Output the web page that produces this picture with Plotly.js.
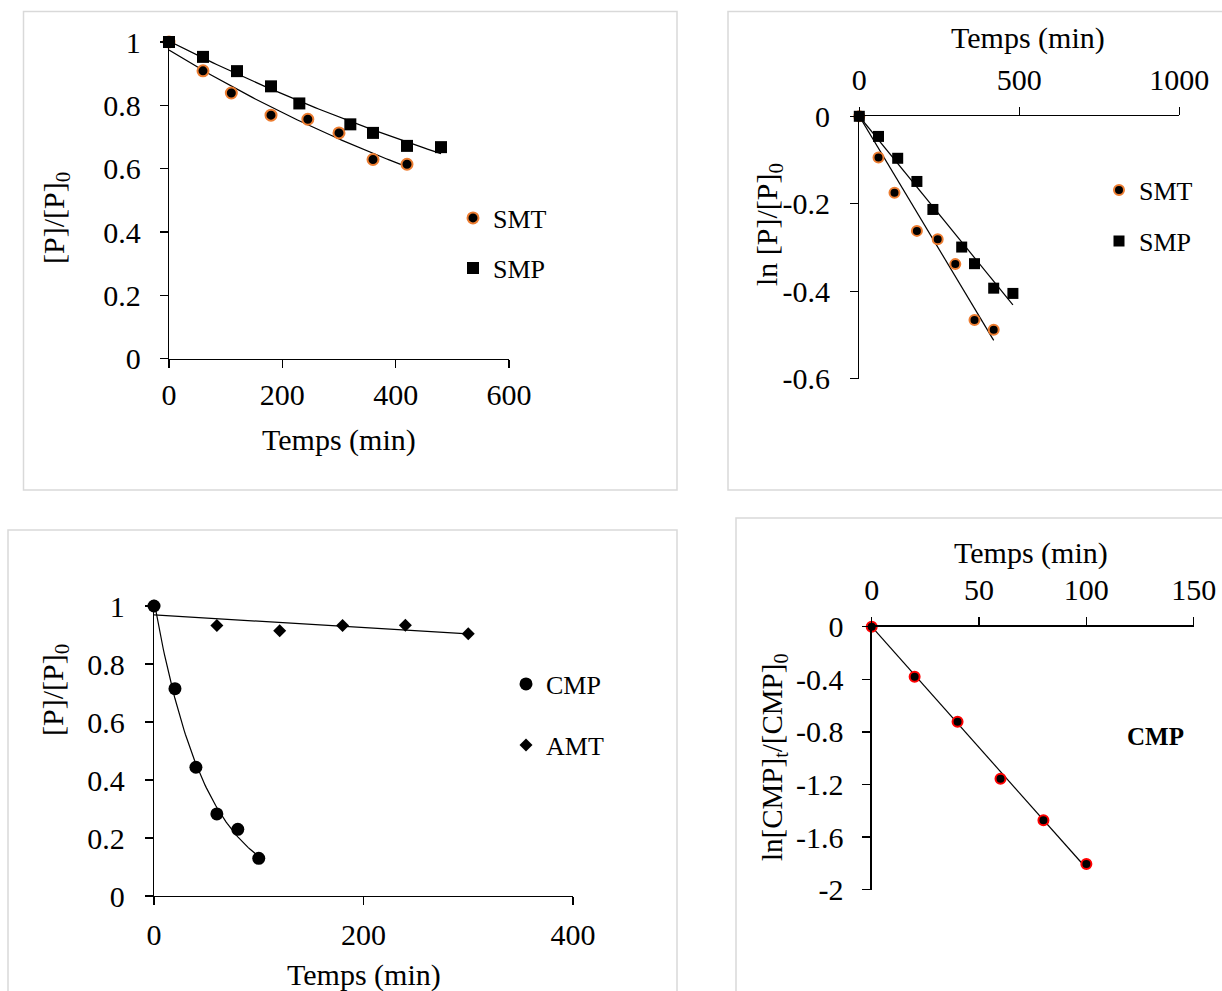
<!DOCTYPE html>
<html>
<head>
<meta charset="utf-8">
<script src="https://cdn.plot.ly/plotly-3.0.1.min.js"></script>
<style>
html,body{margin:0;padding:0;background:#fff;}
#chart{width:1222px;height:991px;}
</style>
</head>
<body>
<div id="chart"></div>
<script>
// ---------- data ----------
// Panel A: [P]/[P]0 vs time (SMT, SMP)
const smtTime  = [0, 60, 110, 180, 245, 300, 360, 420];
const smtRatio = [1.0, 0.909, 0.839, 0.769, 0.756, 0.713, 0.629, 0.614];
const smpTime  = [0, 60, 120, 180, 230, 320, 360, 420, 480];
const smpRatio = [1.0, 0.953, 0.908, 0.860, 0.806, 0.740, 0.713, 0.672, 0.668];

// Panel B: ln [P]/[P]0 vs time (SMT, SMP)
const smtLnTime = [0, 60, 110, 180, 245, 300, 360, 420];
const smtLn     = [0, -0.094, -0.175, -0.262, -0.281, -0.338, -0.466, -0.488];
const smpLnTime = [0, 60, 120, 180, 230, 320, 360, 420, 480];
const smpLn     = [0, -0.046, -0.096, -0.149, -0.213, -0.299, -0.337, -0.393, -0.405];

// Panel C: [P]/[P]0 vs time (CMP, AMT)
const cmpTime  = [0, 20, 40, 60, 80, 100];
const cmpRatio = [1.0, 0.715, 0.444, 0.283, 0.230, 0.130];
const amtTime  = [0, 60, 120, 180, 240, 300];
const amtRatio = [1.0, 0.933, 0.915, 0.933, 0.934, 0.904];

// Panel D: ln[CMP]t/[CMP]0 vs time
const cmpLnTime = [0, 20, 40, 60, 80, 100];
const cmpLn     = [0, -0.380, -0.722, -1.156, -1.472, -1.805];

// tick labels
const ticksB = [0, -0.2, -0.4, -0.6];
const ticksBText = ['0', '-0.2', '-0.4', '-0.6'];
const ticksD = [0, -0.4, -0.8, -1.2, -1.6, -2];
const ticksDText = ['0', '-0.4', '-0.8', '-1.2', '-1.6', '-2'];

// ---------- trendline fits (as the spreadsheet does) ----------
function linFit(xs, ys) {
  const n = xs.length;
  const mx = xs.reduce((a, b) => a + b, 0) / n;
  const my = ys.reduce((a, b) => a + b, 0) / n;
  let sxy = 0, sxx = 0;
  for (let i = 0; i < n; i++) { sxy += (xs[i] - mx) * (ys[i] - my); sxx += (xs[i] - mx) ** 2; }
  const m = sxy / sxx;
  return { m: m, b: my - m * mx };
}
function linFitOrigin(xs, ys) {
  let sxy = 0, sxx = 0;
  for (let i = 0; i < xs.length; i++) { sxy += xs[i] * ys[i]; sxx += xs[i] * xs[i]; }
  return sxy / sxx;
}
function expFitCurve(xs, ys) {
  const f = linFit(xs, ys.map(v => Math.log(v)));
  const a = Math.exp(f.b);
  const xmax = Math.max(...xs);
  const cx = [], cy = [];
  const n = 80;
  for (let i = 0; i <= n; i++) { const x = xmax * i / n; cx.push(x); cy.push(a * Math.exp(f.m * x)); }
  return { x: cx, y: cy };
}
function linCurve(xs, ys) {
  const f = linFit(xs, ys);
  const x0 = Math.min(...xs), x1 = Math.max(...xs);
  return { x: [x0, x1], y: [f.b + f.m * x0, f.b + f.m * x1] };
}
function originCurve(xs, ys) {
  const m = linFitOrigin(xs, ys);
  const x1 = Math.max(...xs);
  return { x: [0, x1], y: [0, m * x1] };
}

// ---------- geometry helpers ----------
const W = 1222, H = 991;
const px = v => v / W;
const py = v => 1 - v / H;

const FONT = '"Liberation Serif", "Times New Roman", serif';
const ORANGE = '#ED7D31';
const trendLine = { color: '#000', width: 1.2 };

const tA1 = expFitCurve(smtTime, smtRatio);
const tA2 = expFitCurve(smpTime, smpRatio);
const tB1 = originCurve(smtLnTime, smtLn);
const tB2 = originCurve(smpLnTime, smpLn);
const tC1 = expFitCurve(cmpTime, cmpRatio);
const tC2 = linCurve(amtTime, amtRatio);
const tD1 = originCurve(cmpLnTime, cmpLn);

const traces = [
  // panel A
  { x: tA1.x, y: tA1.y, xaxis: 'x', yaxis: 'y', mode: 'lines', line: trendLine, showlegend: false, hoverinfo: 'skip' },
  { x: tA2.x, y: tA2.y, xaxis: 'x', yaxis: 'y', mode: 'lines', line: trendLine, showlegend: false, hoverinfo: 'skip' },
  { x: smtTime, y: smtRatio, xaxis: 'x', yaxis: 'y', mode: 'markers', name: 'SMT', legend: 'legend',
    marker: { symbol: 'circle', size: 11, color: '#000', line: { color: ORANGE, width: 2 } }, cliponaxis: false },
  { x: smpTime, y: smpRatio, xaxis: 'x', yaxis: 'y', mode: 'markers', name: 'SMP', legend: 'legend2',
    marker: { symbol: 'square', size: 12, color: '#000' }, cliponaxis: false },
  // panel B
  { x: tB1.x, y: tB1.y, xaxis: 'x2', yaxis: 'y2', mode: 'lines', line: trendLine, showlegend: false, hoverinfo: 'skip' },
  { x: tB2.x, y: tB2.y, xaxis: 'x2', yaxis: 'y2', mode: 'lines', line: trendLine, showlegend: false, hoverinfo: 'skip' },
  { x: smtLnTime, y: smtLn, xaxis: 'x2', yaxis: 'y2', mode: 'markers', name: 'SMT', legend: 'legend3',
    marker: { symbol: 'circle', size: 10, color: '#000', line: { color: ORANGE, width: 2 } }, cliponaxis: false },
  { x: smpLnTime, y: smpLn, xaxis: 'x2', yaxis: 'y2', mode: 'markers', name: 'SMP', legend: 'legend4',
    marker: { symbol: 'square', size: 11, color: '#000' }, cliponaxis: false },
  // panel C
  { x: tC1.x, y: tC1.y, xaxis: 'x3', yaxis: 'y3', mode: 'lines', line: trendLine, showlegend: false, hoverinfo: 'skip' },
  { x: tC2.x, y: tC2.y, xaxis: 'x3', yaxis: 'y3', mode: 'lines', line: trendLine, showlegend: false, hoverinfo: 'skip' },
  { x: amtTime, y: amtRatio, xaxis: 'x3', yaxis: 'y3', mode: 'markers', name: 'AMT', legend: 'legend6',
    marker: { symbol: 'diamond', size: 10, color: '#000' }, cliponaxis: false },
  { x: cmpTime, y: cmpRatio, xaxis: 'x3', yaxis: 'y3', mode: 'markers', name: 'CMP', legend: 'legend5',
    marker: { symbol: 'circle', size: 13, color: '#000' }, cliponaxis: false },
  // panel D
  { x: tD1.x, y: tD1.y, xaxis: 'x4', yaxis: 'y4', mode: 'lines', line: trendLine, showlegend: false, hoverinfo: 'skip' },
  { x: cmpLnTime, y: cmpLn, xaxis: 'x4', yaxis: 'y4', mode: 'markers', name: 'CMP', showlegend: false,
    marker: { symbol: 'circle', size: 10, color: '#000', line: { color: '#FF0000', width: 2 } }, cliponaxis: false }
];

const axBase = {
  showline: true, linecolor: '#000', linewidth: 1.3,
  ticks: 'outside', ticklen: 8, tickwidth: 1.3, tickcolor: '#000',
  showgrid: false, zeroline: false, fixedrange: true,
  tickfont: { family: FONT, size: 30, color: '#000' }
};
function ax(extra) { return Object.assign({}, axBase, { tickfont: { family: FONT, size: 30, color: '#000' } }, extra); }

function leg(x, y) {
  return { xanchor: 'left', yanchor: 'middle', bgcolor: 'rgba(0,0,0,0)', borderwidth: 0,
    font: { family: FONT, size: 26, color: '#000' }, x: px(x), y: py(y) };
}

function note(text, x, y, angle, extra) {
  return Object.assign({ text: text, x: px(x), y: py(y), xref: 'paper', yref: 'paper', showarrow: false,
    textangle: angle || 0, xanchor: 'center', yanchor: 'middle',
    font: { family: FONT, size: 30, color: '#000' } }, extra || {});
}
function frame(x0, y0, x1, y1) {
  return { type: 'rect', xref: 'paper', yref: 'paper', x0: px(x0), x1: px(x1), y0: py(y1), y1: py(y0),
    line: { color: '#D9D9D9', width: 1.5 }, fillcolor: 'rgba(0,0,0,0)', layer: 'below' };
}

const layout = {
  width: W, height: H,
  margin: { l: 0, r: 0, t: 0, b: 0 },
  paper_bgcolor: '#fff', plot_bgcolor: 'rgba(0,0,0,0)',
  font: { family: FONT, color: '#000', size: 30 },
  xaxis:  ax({ domain: [px(169), px(509)], range: [0, 600], dtick: 200, anchor: 'y', ticklabelstandoff: 1 }),
  yaxis:  ax({ domain: [py(358.7), py(42)], range: [0, 1], dtick: 0.2, anchor: 'x', ticklabelstandoff: 13 }),
  xaxis2: ax({ domain: [px(859.3), px(1179.3)], range: [0, 1000], dtick: 500, anchor: 'y2', side: 'top', ticklabelstandoff: 5 }),
  yaxis2: ax({ domain: [py(378.7), py(116.3)], range: [-0.6, 0], tickvals: ticksB, ticktext: ticksBText, anchor: 'x2', ticklabelstandoff: 14 }),
  xaxis3: ax({ domain: [px(154), px(573)], range: [0, 400], dtick: 200, anchor: 'y3', ticklabelstandoff: 4 }),
  yaxis3: ax({ domain: [py(896), py(606)], range: [0, 1], dtick: 0.2, anchor: 'x3', ticklabelstandoff: 14 }),
  xaxis4: ax({ domain: [px(871.7), px(1193.7)], range: [0, 150], dtick: 50, anchor: 'y4', side: 'top', ticklabelstandoff: 5 }),
  yaxis4: ax({ domain: [py(889.7), py(626.7)], range: [-2, 0], tickvals: ticksD, ticktext: ticksDText, anchor: 'x4', ticklabelstandoff: 13 }),
  legend:  leg(453, 218),
  legend2: leg(453, 268),
  legend3: leg(1099, 190),
  legend4: leg(1099, 241),
  legend5: leg(506, 684),
  legend6: leg(506, 745),
  shapes: [
    frame(23.5, 11.5, 677, 490),
    frame(728, 11.5, 1240, 490),
    frame(8, 530, 677, 1010),
    frame(736, 518, 1240, 1010)
  ],
  annotations: [
    note('Temps (min)', 339, 440),
    note('[P]/[P]<sub>0</sub>', 56, 218, -90),
    note('Temps (min)', 1028, 38),
    note('ln [P]/[P]<sub>0</sub>', 769, 225, -90),
    note('Temps (min)', 364, 975),
    note('[P]/[P]<sub>0</sub>', 55, 690, -90),
    note('Temps (min)', 1031, 553),
    note('ln[CMP]<sub>t</sub>/[CMP]<sub>0</sub>', 774, 757, -90, { font: { family: FONT, size: 29, color: '#000' } }),
    note('<b>CMP</b>', 1155, 736, 0, { font: { family: FONT, size: 25, color: '#000' } })
  ]
};

Plotly.newPlot('chart', traces, layout, { staticPlot: true, displayModeBar: false });
</script>
</body>
</html>
